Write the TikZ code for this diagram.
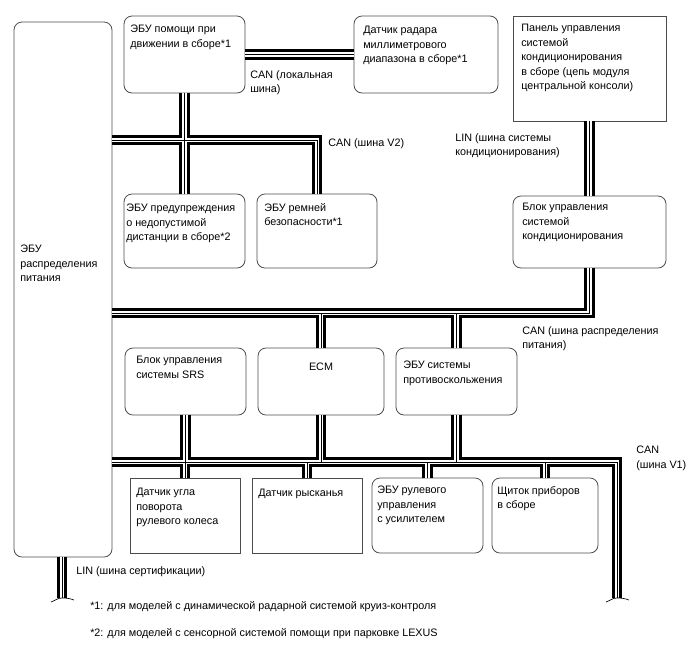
\documentclass[tikz,border=0pt]{standalone}
\usepackage{fontspec}
\setmainfont{Liberation Sans}
\usetikzlibrary{fit}
\newcommand\cablepaths{
  (assist.east) -- (radar.west)
  (assist.south) -- (warn.north)
  (big.east |- v2y) -- (belt.north |- v2y) -- (belt.north)
  (panel.south) -- (acu.north)
  (acu.south) -- (acu.south |- pdy) -- (big.east |- pdy)
  (ecm.north |- pdy) -- (ecm.north)
  (esc.north |- pdy) -- (esc.north)
  (big.east |- v1y) -- (v1end |- v1y) -- (v1end)
  (srs.south) -- (srs.south |- v1y)
  (ecm.south) -- (ecm.south |- v1y)
  (esc.south) -- (esc.south |- v1y)
  (angle.north) -- (angle.north |- v1y)
  (yaw.north) -- (yaw.north |- v1y)
  (eps.north) -- (eps.north |- v1y)
  (clus.north) -- (clus.north |- v1y)
  (big.south -| lcend) -- (lcend)
}
\begin{document}
\begin{tikzpicture}[x=0.75pt,y=-0.75pt,
  box/.style={draw=black!70, line width=0.6pt, rounded corners=6pt, inner sep=0pt},
  sbox/.style={draw=black!70, line width=0.6pt, inner sep=0pt},
  txt/.style={anchor=north west, inner sep=0pt, align=left, font=\fontsize{8.1}{10.9}\selectfont},
  brk/.style={line width=0.5pt},
  ]
\useasboundingbox (0,0) rectangle (688,658);
% boxes
\node[box, fit={(14,22) (112,557)}] (big) {};
\node[box, fit={(124,16) (245,93)}] (assist) {};
\node[box, fit={(354,16) (498,93)}] (radar) {};
\node[sbox, fit={(513,16) (666,121)}] (panel) {};
\node[box, fit={(513,196) (666,268)}] (acu) {};
\node[box, fit={(124,194) (245,268)}] (warn) {};
\node[box, fit={(257,194) (377,268)}] (belt) {};
\node[box, fit={(125,348) (246,415)}] (srs) {};
\node[box, fit={(258,348) (384,415)}] (ecm) {};
\node[box, fit={(396,348) (517,415)}] (esc) {};
\node[sbox, fit={(130,478) (240,553)}] (angle) {};
\node[sbox, fit={(252,478) (362,553)}] (yaw) {};
\node[box, fit={(372,478) (483,553)}] (eps) {};
\node[box, fit={(492,478) (598,553)}] (clus) {};
% bus coordinates
\coordinate (v2y) at (0,140);
\coordinate (pdy) at (0,313);
\coordinate (v1y) at (0,462);
\coordinate (v1end) at (617,598);
\coordinate (lcend) at (62,598);
% cables
\foreach \w/\c in {7.6pt/black, 3.4pt/white, 0.75pt/black}{
  \draw[line width=\w, \c, line join=miter] \cablepaths;
}
% break marks
\draw[brk] ([shift={(-11,4)}]v1end) to[out=20,in=180] (v1end) to[out=0,in=160] ([shift={(12,2)}]v1end);
\draw[brk] ([shift={(-11,4)}]lcend) to[out=20,in=180] (lcend) to[out=0,in=160] ([shift={(12,2)}]lcend);
% texts
\node[txt] (tbig) at (20,245) {ЭБУ\\распределения\\питания};
\node[txt] (tassist) at (130,25) {ЭБУ помощи при\\движении в сборе*1};
\node[txt] (tradar) at (363,26) {Датчик радара\\миллиметрового\\диапазона в сборе*1};
\node[txt] (tpanel) at (521,24) {Панель управления\\системой\\кондиционирования\\в сборе (цепь модуля\\центральной консоли)};
\node[txt] (tacu) at (522,203) {Блок управления\\системой\\кондиционирования};
\node[txt] (twarn) at (126,204) {ЭБУ предупреждения\\о недопустимой\\дистанции в сборе*2};
\node[txt] (tbelt) at (264,203) {ЭБУ ремней\\безопасности*1};
\node[txt] (tsrs) at (136,356) {Блок управления\\системы SRS};
\node[txt, anchor=north] (tecm) at (321,363) {ECM};
\node[txt] (tesc) at (403,361) {ЭБУ системы\\противоскольжения};
\node[txt] (tangle) at (136,488) {Датчик угла\\поворота\\рулевого колеса};
\node[txt] (tyaw) at (258,489) {Датчик рысканья};
\node[txt] (teps) at (377,486) {ЭБУ рулевого\\управления\\с усилителем};
\node[txt] (tclus) at (497,486) {Щиток приборов\\в сборе};
% bus labels
\node[txt] (llocal) at (250,70) {CAN (локальная\\шина)};
\node[txt] (lv2) at (328,138) {CAN (шина V2)};
\node[txt] (llin) at (455,133) {LIN (шина системы\\кондиционирования)};
\node[txt] (lpd) at (522,326) {CAN (шина распределения\\питания)};
\node[txt] (lv1) at (636,446) {CAN\\(шина V1)};
\node[txt] (lcert) at (76,566) {LIN (шина сертификации)};
% footnotes
\node[txt] (fn1) at (90,601) {*1: для моделей с динамической радарной системой круиз-контроля};
\node[txt] (fn2) at (90,628) {*2: для моделей с сенсорной системой помощи при парковке LEXUS};
\end{tikzpicture}
\end{document}
